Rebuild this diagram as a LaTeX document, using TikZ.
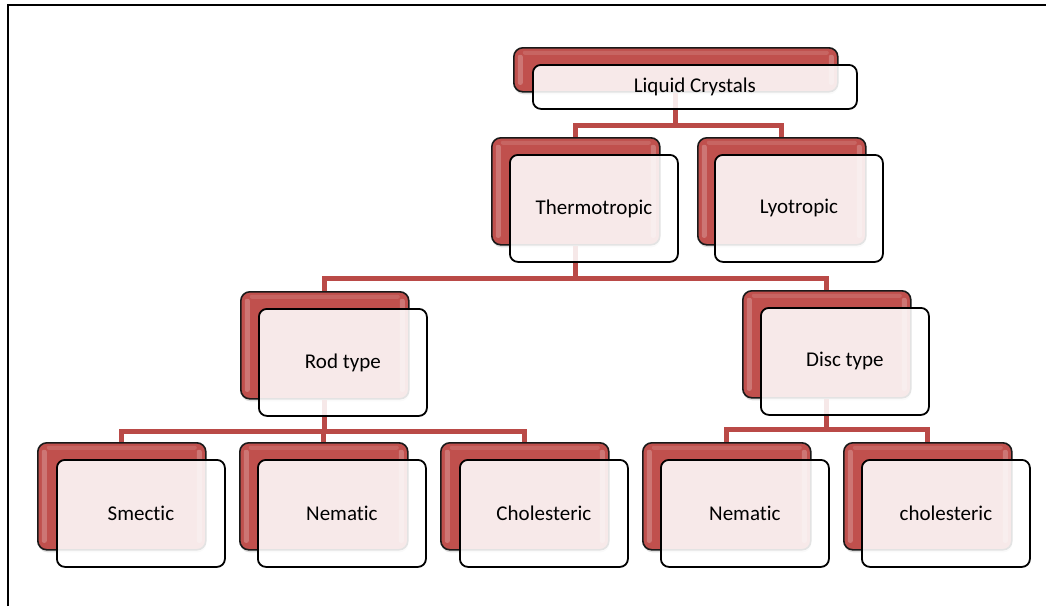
\documentclass[tikz,border=0pt]{standalone}
\usepackage{fontspec}
\setmainfont{Carlito}[Ligatures={NoCommon}]
\usetikzlibrary{calc,shadows}
\definecolor{lcred}{RGB}{192,80,77}
\definecolor{linkred}{RGB}{186,74,71}
\tikzset{
  backbox/.style={draw=black!90, line width=1.6pt, rounded corners=9pt, fill=lcred,
    minimum width=168pt, minimum height=107pt, anchor=north west, inner sep=0pt,
    drop shadow={shadow xshift=0.5pt, shadow yshift=-2.5pt, opacity=0.25},
    path picture={
      \fill[white, opacity=0.22, rounded corners=2pt]
        ($(path picture bounding box.north west)+(4,7)$) rectangle ($(path picture bounding box.south west)+(9,-7)$);
      \fill[white, opacity=0.22, rounded corners=2pt]
        ($(path picture bounding box.north east)+(-9,7)$) rectangle ($(path picture bounding box.south east)+(-4,-7)$);
      \fill[white, opacity=0.12, rounded corners=2pt]
        ($(path picture bounding box.north west)+(9,3)$) rectangle ($(path picture bounding box.north east)+(-9,7)$);
    }},
  frontbox/.style={draw=black, line width=1.8pt, rounded corners=8pt, fill=white,
    fill opacity=0.88, text opacity=1, minimum width=168pt, minimum height=107pt,
    anchor=north west, inner sep=0pt, align=center,
    font=\fontsize{21}{25}\selectfont},
  wide/.style={minimum width=324pt, minimum height=44pt},
  link/.style={draw=linkred, line width=5pt},
}
\begin{document}
\begin{tikzpicture}[x=1pt,y=-1pt]
\useasboundingbox (0,0) rectangle (1046,606);
\draw[line width=2pt] (8,606) -- (8,5) -- (1046,5);

% back boxes
\node[backbox, wide] (lcB) at (513,47) {};
\node[backbox] (thB) at (491,137) {};
\node[backbox] (lyB) at (697,137) {};
\node[backbox] (rodB) at (240,291) {};
\node[backbox] (discB) at (742,290) {};
\node[backbox] (smB) at (37,442) {};
\node[backbox] (nemB) at (239,442) {};
\node[backbox] (chB) at (440,442) {};
\node[backbox] (nem2B) at (642,442) {};
\node[backbox] (ch2B) at (843,442) {};

% connectors
\draw[link] (lcB.south) -- ++(0,33) -| (thB.north);
\draw[link] (lcB.south) -- ++(0,33) -| (lyB.north);
\draw[link] (thB.south) -- ++(0,33) -| (rodB.north);
\draw[link] (thB.south) -- ++(0,33) -| (discB.north);
\draw[link] (rodB.south) -- ++(0,32) -| (smB.north);
\draw[link] (rodB.south) -- ++(0,32) -| (nemB.north);
\draw[link] (rodB.south) -- ++(0,32) -| (chB.north);
\draw[link] (discB.south) -- ++(0,31) -| (nem2B.north);
\draw[link] (discB.south) -- ++(0,31) -| (ch2B.north);

% front boxes
\node[frontbox, wide] (lc) at (532,64) {Liquid Crystals};
\node[frontbox] (th) at (509,154) {Thermotropic};
\node[frontbox] (ly) at (714,154) {Lyotropic};
\node[frontbox] (rod) at (258,308) {Rod type};
\node[frontbox] (disc) at (760,307) {Disc type};
\node[frontbox] (sm) at (56,459) {Smectic};
\node[frontbox] (nem) at (257,459) {Nematic};
\node[frontbox] (ch) at (459,459) {Cholesteric};
\node[frontbox] (nem2) at (660,459) {Nematic};
\node[frontbox] (ch2) at (861,459) {cholesteric};
\end{tikzpicture}
\end{document}
